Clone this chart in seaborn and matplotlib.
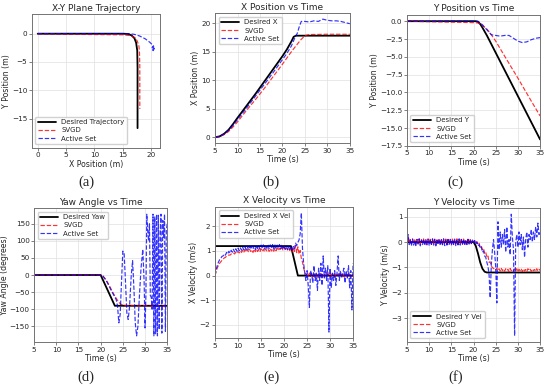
import numpy as np
import matplotlib
matplotlib.use('Agg')
import matplotlib.pyplot as plt
import seaborn as sns

sns.set_style('ticks')
plt.rcParams['font.family'] = ['DejaVu Sans']

# ---------------- (a) X-Y trajectory ----------------
traj_des_x = [0, 5, 10, 15, 16, 16.6, 17.1, 17.4, 17.6, 17.65, 17.65]
traj_des_y = [0, 0, 0, 0, -0.05, -0.3, -0.8, -1.6, -3.0, -6.0, -16.7]
traj_svgd_x = [0, 5, 10, 15, 16.5, 17.2, 17.6, 17.9, 18.0, 18.05, 18.05]
traj_svgd_y = [0, -0.1, -0.15, -0.2, -0.35, -0.7, -1.3, -2.2, -3.5, -6.0, -13.3]
traj_as_x = [0, 5, 10, 15, 16, 17, 18, 19, 19.8, 20.3, 20.5, 20.3, 20.6, 20.4, 20.2, 20.5, 20.3]
traj_as_y = [0, 0, 0, 0, 0, -0.1, -0.4, -0.9, -1.5, -2.0, -2.4, -2.9, -2.6, -3.0, -2.5, -2.2, -2.3]

# ---------------- (b) X position ----------------
xpos_des_t = [5, 6, 7, 8, 9, 10, 12, 14, 16, 18, 20, 21, 22, 22.5, 23, 25, 30, 35]
xpos_des = [0, 0.15, 0.6, 1.3, 2.3, 3.4, 5.5, 7.6, 9.8, 12.0, 14.2, 15.4, 16.8, 17.6, 17.8, 17.8, 17.8, 17.8]
xpos_svgd_t = [5, 6, 7, 8, 9, 10, 12, 14, 16, 18, 20, 22, 24, 25, 26, 30, 35]
xpos_svgd = [0, 0.1, 0.45, 1.0, 1.8, 2.7, 4.7, 6.6, 8.6, 10.7, 12.8, 15.0, 17.0, 17.8, 18.0, 18.05, 18.05]
xpos_as_t = [5, 6, 7, 8, 9, 10, 12, 14, 16, 18, 20, 21, 22, 22.8, 23.3, 23.8, 24.2,
             25, 26, 27, 28, 29, 30, 31, 32, 33, 34, 35]
xpos_as = [0, 0.12, 0.55, 1.2, 2.1, 3.1, 5.1, 7.2, 9.3, 11.4, 13.6, 14.7, 16.0, 17.5, 18.2, 19.5, 20.3,
           20.3, 20.2, 20.4, 20.3, 20.7, 20.5, 20.4, 20.4, 20.3, 20.1, 19.9]

# ---------------- (c) Y position ----------------
ypos_des_t = [5, 20.5, 21, 21.5, 22, 23, 35]
ypos_des = [0, 0, -0.1, -0.4, -0.9, -2.0, -16.6]
ypos_svgd_t = [5, 8, 12, 16, 20, 21, 22, 23, 24, 25, 27, 30, 33, 35]
ypos_svgd = [0.05, -0.05, -0.1, -0.15, -0.2, -0.25, -0.6, -1.1, -1.9, -2.8, -4.9, -8.0, -11.2, -13.3]
ypos_as_t = [5, 10, 15, 21, 22, 23, 24, 25, 26, 27, 28, 29, 30, 31, 32, 33, 34, 35]
ypos_as = [0.05, 0.0, 0.02, 0.0, -0.5, -1.2, -1.9, -2.0, -2.1, -2.0, -2.0, -2.4, -2.8, -3.0, -2.9, -2.6, -2.4, -2.3]

# ---------------- (d) Yaw ----------------
yaw_des_t = [5, 20, 23.2, 35]
yaw_des = [0, 0, -90, -90]
yaw_svgd_t = [5, 20, 20.5, 21, 21.5, 22, 22.5, 23, 23.5, 24, 24.5, 25, 26, 27, 28, 29, 30, 31, 32, 33, 34, 35]
yaw_svgd = [0, 0, -3, -10, -20, -32, -45, -57, -68, -78, -85, -88, -90, -89, -91, -90, -89, -91, -90, -89, -91, -90]
yaw_as_t = [5, 20, 20.5, 21, 21.5, 22, 22.5, 23, 23.5, 23.8, 24.1, 24.4, 24.7, 25.0, 25.3, 25.6, 25.9,
            26.2, 26.5, 26.9, 27.2, 27.5, 27.8, 28.1, 28.4, 28.7, 29.1, 29.5, 29.8, 30.0, 30.2, 30.4,
            30.6, 30.8, 31.0, 31.2, 31.4, 31.6, 31.8, 32.0, 32.2, 32.4, 32.6, 32.8, 33.0, 33.2, 33.4,
            33.6, 33.8, 34.0, 34.2, 34.4, 34.6, 34.8, 35.0]
yaw_as = [0, 0, -3, -12, -22, -35, -48, -60, -72, -90, -140, -115, -20, 70, 62, -20, -110,
          -130, -95, 0, 42, -40, -140, -178, -150, -70, 20, 75, -20, -155, -60, 178,
          130, 100, 150, -60, -65, -100, 178, -178, 170, -172, 178, -178, 175, -160, 120,
          178, -170, 160, 110, 178, -165, 130, 150]

# ---------------- (e)/(f) velocities, sampled every 0.25 s ----------------
vel_t = np.arange(5, 35.001, 0.25)

xvel_des_t = [5, 5, 21.5, 23, 35]
xvel_des = [0, 1.2, 1.2, 0, 0]
xvel_svgd = [0.00, 0.18, 0.32, 0.42, 0.50, 0.56, 0.62, 0.66,
             0.72, 0.74, 0.79, 0.80, 0.84, 0.83, 0.88, 0.87,
             0.91, 0.88, 0.95, 0.90, 0.98, 0.92, 1.01, 0.94,
             1.03, 0.95, 1.05, 0.96, 1.06, 0.97, 1.07, 0.98,
             1.05, 0.94, 1.07, 0.97, 1.08, 0.98, 1.06, 0.96,
             1.09, 0.99, 1.07, 0.97, 1.09, 1.00, 1.08, 0.98,
             1.10, 1.00, 1.09, 0.99, 1.11, 1.01, 1.10, 1.02,
             1.12, 1.03, 1.14, 1.04, 1.16, 1.06, 1.14, 1.04,
             1.12, 1.02, 1.10, 0.96, 1.14, 0.98, 1.22, 0.93,
             1.17, 0.88, 1.02, 0.70, 0.55, 0.30, 0.15, 0.05,
             0.02, -0.07, 0.10, -0.02, 0.08, -0.06, 0.07, 0.01,
             -0.05, 0.09, 0.02, -0.07, 0.08, 0.00, 0.06, -0.05,
             0.07, 0.12, -0.04, 0.06, 0.10, -0.05, 0.07, 0.02,
             -0.06, 0.08, 0.01, 0.07, -0.04, 0.06, 0.00, 0.08,
             -0.05, 0.07, 0.02, -0.06, 0.08, 0.01, 0.05, -0.04,
             0.04]
xvel_as = [0.00, 0.25, 0.42, 0.55, 0.65, 0.70, 0.78, 0.80,
           0.88, 0.83, 0.94, 0.88, 0.99, 0.91, 1.03, 0.95,
           1.07, 0.96, 1.09, 0.99, 1.12, 1.01, 1.13, 1.03,
           1.16, 1.04, 1.17, 1.06, 1.19, 1.05, 1.20, 1.07,
           1.21, 1.08, 1.22, 1.06, 1.23, 1.09, 1.22, 1.08,
           1.24, 1.10, 1.25, 1.08, 1.24, 1.11, 1.26, 1.09,
           1.25, 1.10, 1.26, 1.08, 1.25, 1.11, 1.24, 1.10,
           1.26, 1.09, 1.25, 1.10, 1.23, 1.08, 1.21, 1.06,
           1.18, 1.03, 1.15, 1.00, 1.18, 1.08, 1.32, 1.22,
           1.35, 1.45, 1.70, 2.55, 1.10, 0.50, 0.10, -0.20,
           0.20, -0.40, -1.30, 0.20, 0.05, -0.30, 0.40, -0.20,
           0.10, -0.60, 0.30, -0.20, 0.50, -0.40, 0.80, -0.10,
           0.30, -0.20, 0.40, -2.30, 0.30, -0.50, 0.10, -0.20,
           0.20, -0.40, 0.10, 0.80, -0.20, 0.20, -0.10, 0.10,
           0.30, -0.30, 0.20, -0.10, 0.40, -0.50, 0.20, -1.40,
           0.50]

yvel_des_t = [5, 20, 20.5, 21, 21.5, 22, 22.5, 23, 35]
yvel_des = [0, 0, -0.15, -0.45, -0.8, -1.05, -1.17, -1.2, -1.2]
yvel_svgd = [0.10, 0.25, -0.05, 0.10, -0.08, 0.12, -0.06, 0.09,
             -0.10, 0.11, -0.05, 0.12, -0.09, 0.10, -0.07, 0.13,
             -0.08, 0.10, -0.10, 0.12, -0.06, 0.11, -0.09, 0.10,
             -0.07, 0.12, -0.10, 0.09, -0.06, 0.13, -0.08, 0.10,
             -0.09, 0.11, -0.07, 0.12, -0.10, 0.10, -0.06, 0.11,
             -0.08, 0.12, -0.09, 0.10, -0.07, 0.13, -0.10, 0.09,
             -0.06, 0.11, -0.08, 0.12, -0.09, 0.10, -0.07, 0.11,
             -0.05, 0.10, -0.06, 0.08, 0.00, 0.05, -0.05, 0.02,
             -0.10, -0.05, -0.20, -0.15, -0.30, -0.25, -0.45, -0.40,
             -0.60, -0.55, -0.80, -0.78, -0.95, -1.00, -1.05, -1.02,
             -1.10, -1.03, -1.12, -1.05, -1.14, -1.04, -1.13, -1.06,
             -1.15, -1.05, -1.12, -1.07, -1.16, -1.04, -1.13, -1.08,
             -1.15, -1.06, -1.14, -1.05, -1.17, -1.07, -1.13, -1.05,
             -1.16, -1.06, -1.14, -1.08, -1.17, -1.05, -1.12, -1.07,
             -1.15, -1.06, -1.13, -1.08, -1.16, -1.05, -1.14, -1.07,
             -1.12]
yvel_as = [0.15, 0.30, -0.10, 0.08, -0.15, 0.12, -0.12, 0.06,
           -0.14, 0.10, -0.08, 0.13, -0.15, 0.07, -0.10, 0.12,
           -0.13, 0.09, -0.11, 0.12, -0.14, 0.08, -0.09, 0.13,
           -0.12, 0.10, -0.15, 0.07, -0.10, 0.12, -0.13, 0.09,
           -0.11, 0.13, -0.14, 0.08, -0.12, 0.11, -0.09, 0.12,
           -0.13, 0.09, -0.10, 0.12, -0.14, 0.07, -0.11, 0.13,
           -0.12, 0.10, -0.09, 0.12, -0.13, 0.08, -0.10, 0.11,
           -0.08, 0.10, -0.06, 0.08, -0.05, 0.06, -0.10, 0.00,
           -0.15, -0.10, -0.25, -0.20, -0.40, -0.35, -0.55, -0.60,
           -0.80, -0.95, -1.30, -2.20, -0.90, -0.30, 0.10, -0.40,
           -1.00, -2.40, 0.80, -0.30, 0.40, -0.20, 0.30, -0.10,
           0.50, -0.40, 0.60, -0.20, 0.10, -0.50, 1.10, 0.20,
           -0.30, -3.70, 0.00, 0.30, -0.20, 0.40, -0.10, 0.30,
           -0.30, 0.20, -0.60, 0.10, 0.40, -0.20, 0.30, 0.10,
           0.50, 0.00, 0.40, 0.10, 0.60, 0.20, 0.75, 0.30,
           0.45]

time_ticks = [5, 10, 15, 20, 25, 30, 35]

# ---------------- figure ----------------
fig = plt.figure(figsize=(5.5, 3.89), dpi=100)

rects = {
    'a': [0.058, 0.620, 0.233, 0.344],
    'b': [0.391, 0.632, 0.245, 0.334],
    'c': [0.740, 0.625, 0.242, 0.337],
    'd': [0.062, 0.121, 0.242, 0.344],
    'e': [0.391, 0.131, 0.251, 0.337],
    'f': [0.740, 0.121, 0.242, 0.344],
}
label_pos = {'a': (0.157, 0.532), 'b': (0.493, 0.532), 'c': (0.828, 0.532),
             'd': (0.157, 0.030), 'e': (0.493, 0.030), 'f': (0.828, 0.030)}


def draw(ax, x, y, kind, label):
    if kind == 'des':
        sns.lineplot(x=x, y=y, ax=ax, color='black', lw=1.3, label=label,
                     estimator=None, sort=False)
    elif kind == 'svgd':
        sns.lineplot(x=x, y=y, ax=ax, color='red', lw=0.85, alpha=0.8, linestyle='--',
                     label=label, estimator=None, sort=False)
    else:
        sns.lineplot(x=x, y=y, ax=ax, color='blue', lw=0.85, alpha=0.8, linestyle='--',
                     label=label, estimator=None, sort=False)


def style(ax, title, xlabel, ylabel, loc, ypad=1):
    ax.set_title(title, fontsize=6.5, pad=2.5)
    ax.set_xlabel(xlabel, fontsize=5.6, labelpad=1)
    ax.set_ylabel(ylabel, fontsize=5.6, labelpad=ypad)
    ax.tick_params(labelsize=5.2, length=2, width=0.5, pad=1.3, color='0.3')
    ax.grid(True, color='0.88', lw=0.5)
    for s in ax.spines.values():
        s.set_color('0.45')
        s.set_linewidth(0.7)
    ax.legend(loc=loc, fontsize=5.0, handlelength=2.6, borderpad=0.4,
              labelspacing=0.3, handletextpad=0.7, framealpha=0.9, edgecolor='0.8')


axs = {k: fig.add_axes(r) for k, r in rects.items()}

ax = axs['a']
draw(ax, traj_des_x, traj_des_y, 'des', 'Desired Trajectory')
draw(ax, traj_svgd_x, traj_svgd_y, 'svgd', 'SVGD')
draw(ax, traj_as_x, traj_as_y, 'as', 'Active Set')
ax.axis('equal')
ax.set_xticks([0, 5, 10, 15, 20])
ax.set_yticks([0, -5, -10, -15])
style(ax, 'X-Y Plane Trajectory', 'X Position (m)', 'Y Position (m)', 'lower left')

ax = axs['b']
draw(ax, xpos_des_t, xpos_des, 'des', 'Desired X')
draw(ax, xpos_svgd_t, xpos_svgd, 'svgd', 'SVGD')
draw(ax, xpos_as_t, xpos_as, 'as', 'Active Set')
ax.set_xlim(5, 35)
ax.set_xticks(time_ticks)
style(ax, 'X Position vs Time', 'Time (s)', 'X Position (m)', 'upper left')

ax = axs['c']
draw(ax, ypos_des_t, ypos_des, 'des', 'Desired Y')
draw(ax, ypos_svgd_t, ypos_svgd, 'svgd', 'SVGD')
draw(ax, ypos_as_t, ypos_as, 'as', 'Active Set')
ax.set_xlim(5, 35)
ax.set_xticks(time_ticks)
ax.set_ylim(-17.5, 0.9)
style(ax, 'Y Position vs Time', 'Time (s)', 'Y Position (m)', 'lower left')

ax = axs['d']
draw(ax, yaw_des_t, yaw_des, 'des', 'Desired Yaw')
draw(ax, yaw_svgd_t, yaw_svgd, 'svgd', 'SVGD')
draw(ax, yaw_as_t, yaw_as, 'as', 'Active Set')
ax.set_xlim(5, 35)
ax.set_xticks(time_ticks)
ax.set_yticks([-150, -100, -50, 0, 50, 100, 150])
style(ax, 'Yaw Angle vs Time', 'Time (s)', 'Yaw Angle (degrees)', 'upper left', ypad=0.3)

ax = axs['e']
draw(ax, xvel_des_t, xvel_des, 'des', 'Desired X Vel')
draw(ax, vel_t, xvel_svgd, 'svgd', 'SVGD')
draw(ax, vel_t, xvel_as, 'as', 'Active Set')
ax.set_xlim(5, 35)
ax.set_xticks(time_ticks)
style(ax, 'X Velocity vs Time', 'Time (s)', 'X Velocity (m/s)', 'upper left')

ax = axs['f']
draw(ax, yvel_des_t, yvel_des, 'des', 'Desired Y Vel')
draw(ax, vel_t, yvel_svgd, 'svgd', 'SVGD')
draw(ax, vel_t, yvel_as, 'as', 'Active Set')
ax.set_xlim(5, 35)
ax.set_xticks(time_ticks)
style(ax, 'Y Velocity vs Time', 'Time (s)', 'Y Velocity (m/s)', 'lower left')

for k, (x, y) in label_pos.items():
    fig.text(x, y, f'({k})', ha='center', va='center', fontsize=10.5,
             family=['Liberation Serif', 'DejaVu Serif'])

fig.savefig('out.png', dpi=100)
